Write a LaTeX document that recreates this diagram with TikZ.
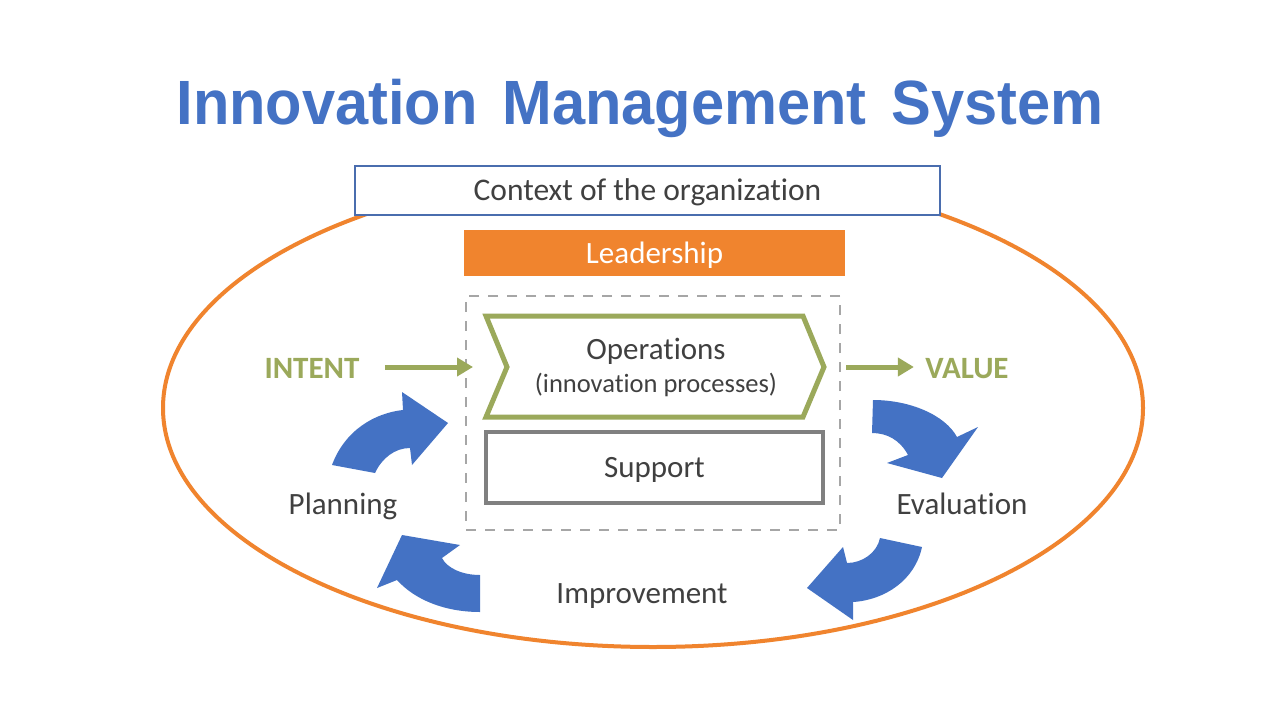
\documentclass[tikz,border=0pt]{standalone}
\usepackage{fontspec}
\setmainfont{Carlito}[Ligatures=NoCommon]
\newfontfamily\titlefont[WordSpace=1.5]{Liberation Sans}
\usetikzlibrary{arrows.meta}

\definecolor{imsblue}{HTML}{4472C4}
\definecolor{imsorange}{HTML}{F0842E}
\definecolor{imsgreen}{HTML}{9BA95B}
\definecolor{imsgray}{HTML}{404040}
\definecolor{boxgray}{HTML}{808080}
\definecolor{dashgray}{HTML}{A6A6A6}
\definecolor{ctxblue}{HTML}{4A6DAE}

\tikzset{
  label text/.style={text=imsgray, font=\fontsize{31}{36}\selectfont, anchor=base},
  key text/.style={text=imsgreen, font=\fontsize{31}{36}\selectfont\bfseries, anchor=base},
  box text/.style={font=\fontsize{31}{36}\selectfont, text height=20pt, text depth=0pt},
  flow arrow/.style={imsgreen, line width=5pt, -{Triangle[length=16pt,width=18pt]}},
  cycle arrow/.style={fill=imsblue, draw=none},
}

\begin{document}
\begin{tikzpicture}[x=1pt, y=-1pt]
  \useasboundingbox (0,0) rectangle (1280,720);
  \fill[white] (0,0) rectangle (1280,720);

  % Title
  \node[text=imsblue, font=\titlefont\bfseries\fontsize{59}{70}\selectfont, anchor=base] (title) at (640,124)
        {\scalebox{1.01}[1.06]{Innovation Management System}};

  % Outer ellipse
  \draw[imsorange, line width=4pt] (653,408) ellipse [x radius=490, y radius=239];

  % Context and leadership
  \node[box text, draw=ctxblue, line width=2.5pt, fill=white, text=imsgray,
        minimum width=585pt, minimum height=49pt] (context) at (647.5,190.5)
        {\fontsize{31.5}{36}\selectfont Context of the organization};
  \node[box text, fill=imsorange, text=white,
        minimum width=381pt, minimum height=46pt] (leadership) at (654.5,253) {Leadership};

  % Dashed core
  \node[draw=dashgray, line width=2.5pt, dash pattern=on 10pt off 9pt,
        minimum width=374pt, minimum height=234pt] (core) at (653,413) {};

  % Operations chevron
  \draw[imsgreen, line width=5pt, line join=miter] (486,316) -- (803,316) -- (824,367)
        -- (803,417) -- (486,417) -- (507,367) -- cycle;
  \node[label text] (ops) at (656,359) {Operations};
  \node[label text, font=\fontsize{26.5}{30}\selectfont] (opsnote) at (656,392) {(innovation processes)};

  % Support
  \node[box text, draw=boxgray, line width=4pt, text=imsgray,
        minimum width=337pt, minimum height=71pt] (support) at (654.5,467.5) {Support};

  % Intent and value
  \node[key text] (intent) at (312,378) {INTENT};
  \node[key text] (value) at (967,378) {VALUE};
  \coordinate (intentend) at (473,367);
  \coordinate (valuestart) at (846,367);
  \draw[flow arrow] ([xshift=22pt]intent.east |- intentend) -- (intentend);
  \draw[flow arrow] (valuestart) -- ([xshift=-8pt]value.west |- valuestart);

  % Cycle labels
  \node[label text] (planning) at (343,514) {Planning};
  \node[label text] (evaluation) at (962,514) {Evaluation};
  \node[label text] (improvement) at (642,603) {Improvement};

  % Curved cycle arrows
  \fill[cycle arrow] (332,465) .. controls (345,430) and (375,413) .. (403,410) -- (402,392)
        -- (448,423) -- (412,465) -- (410,448) .. controls (395,448) and (382,458) .. (375,473) -- cycle;
  \fill[cycle arrow] (873,400) .. controls (910,400) and (945,415) .. (957,437) -- (978,427)
        -- (942,478) -- (887,463) -- (908,455) .. controls (900,440) and (887,433) .. (872,433) -- cycle;
  \fill[cycle arrow] (922,547) .. controls (915,580) and (885,600) .. (853,602) -- (853,620)
        -- (807,588) -- (843,547) -- (847,563) .. controls (862,563) and (877,553) .. (880,538) -- cycle;
  \fill[cycle arrow] (480,575) .. controls (462,575) and (447,568) .. (442,558) -- (460,545)
        -- (402,535) -- (377,588) -- (397,580) .. controls (415,600) and (445,612) .. (480,612) -- cycle;
\end{tikzpicture}
\end{document}
